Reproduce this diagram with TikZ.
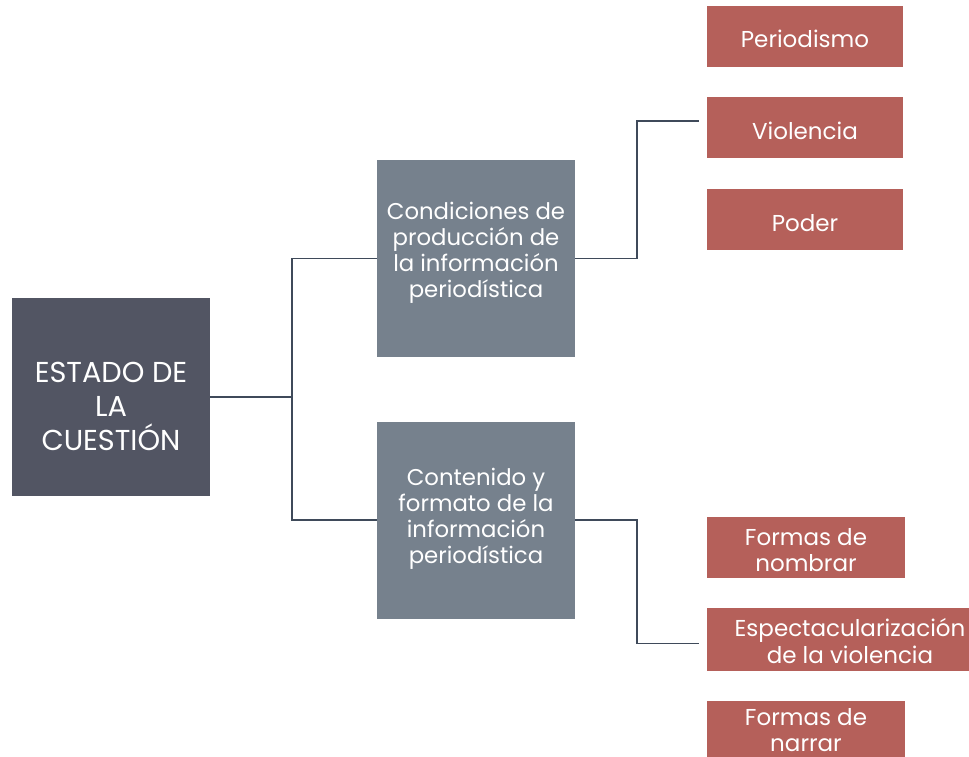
\documentclass[tikz,border=0pt]{standalone}
\usepackage{fontspec}
\setmainfont{Poppins}
\definecolor{rootgray}{HTML}{525563}
\definecolor{midgray}{HTML}{76818D}
\definecolor{topicred}{HTML}{B5605A}
\definecolor{linkgray}{HTML}{3F4A5A}
\begin{document}
\begin{tikzpicture}[x=1pt,y=-1pt,
  rootbox/.style={fill=rootgray,text=white,minimum width=198pt,minimum height=198pt,
    inner sep=0pt,align=center,font=\fontsize{28.8}{34}\selectfont,
    text height=143pt,text depth=37pt},
  midbox/.style={fill=midgray,text=white,minimum width=198pt,minimum height=197pt,
    inner sep=0pt,align=center,font=\fontsize{22.8}{26}\selectfont},
  topic/.style={fill=topicred,text=white,minimum width=196pt,minimum height=61pt,
    inner sep=0pt,align=center,font=\fontsize{23}{26.5}\selectfont,
    text height=39.5pt,text depth=16.5pt},
  link/.style={draw=linkgray,line width=1.5pt}]
\useasboundingbox (0,0) rectangle (969,756);

\node[rootbox] (root) at (111,397) {ESTADO DE\\LA\\CUESTIÓN};
\node[midbox,text height=128.8pt,text depth=51.2pt] (cond) at (476,258.5)
  {Condiciones de\\producción de\\la información\\periodística};
\node[midbox,text height=133.3pt,text depth=46.7pt] (cont) at (476,520)
  {Contenido y\\formato de la\\información\\periodística};

\node[topic] (period) at (805,36.3) {Periodismo};
\node[topic] (viol) at (805,127.8) {Violencia};
\node[topic] (poder) at (805,219.5) {Poder};
\node[topic,minimum width=198pt,minimum height=61.6pt,text height=52.2pt,text depth=3.8pt]
  (nombrar) at (806,547.5) {Formas de\\nombrar};
\node[topic,minimum width=286pt,minimum height=62.7pt,text height=51.6pt,text depth=4.4pt]
  (espec) at (850,639.7) {Espectacularización\\de la violencia};
\node[topic,minimum width=198pt,minimum height=62pt,text height=48pt,text depth=8pt]
  (narrar) at (806,731.7) {Formas de\\narrar};

\draw[link] (root.east) -- ++(82,0) |- (cond.west);
\draw[link] (root.east) -- ++(82,0) |- (cont.west);
\draw[link] (cond.east) -- ++(62,0) |- ([xshift=-8pt,yshift=7pt]viol.west);
\draw[link] (cont.east) -- ++(62,0) |- ([xshift=-8pt,yshift=-3.6pt]espec.west);
\end{tikzpicture}
\end{document}
